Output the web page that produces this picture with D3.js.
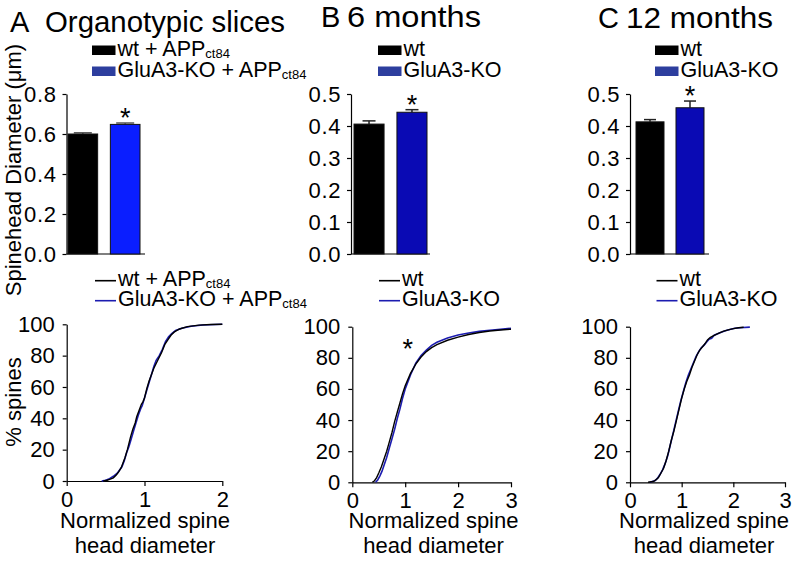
<!DOCTYPE html>
<html>
<head>
<meta charset="utf-8">
<script src="https://cdnjs.cloudflare.com/ajax/libs/d3/7.8.5/d3.min.js"></script>
<style>
  html, body { margin: 0; padding: 0; background: #fff; }
  svg { display: block; font-family: "Liberation Sans", Arial, Helvetica, sans-serif; }
</style>
</head>
<body>
<svg id="chart" width="793" height="562"></svg>
<script>
// ---------------- DATA ----------------
const panelLetters = ["A", "B", "C"];
const panelTitles = ["Organotypic slices", "6 months", "12 months"];

const groupsA = ["wt + APP", "GluA3-KO + APP"];
const groupsBC = ["wt", "GluA3-KO"];
const subscriptA = "ct84";

const barMeansA = [0.600, 0.648];
const barErrA = [0.006, 0.007];
const barMeansB = [0.406, 0.443];
const barErrB = [0.010, 0.008];
const barMeansC = [0.413, 0.457];
const barErrC = [0.007, 0.021];
const sigBars = [true, true, true];

const barTicksA = [0.0, 0.2, 0.4, 0.6, 0.8];
const barTicksBC = [0.0, 0.1, 0.2, 0.3, 0.4, 0.5];
const cdfYTicks = [0, 20, 40, 60, 80, 100];
const cdfXTicksA = [0, 1, 2];
const cdfXTicksBC = [0, 1, 2, 3];

const yLabelTop = "Spinehead Diameter (\u03bcm)";
const yLabelBottom = "% spines";
const xLabelLines = ["Normalized spine", "head diameter"];

// cumulative distributions: [normalized diameter, % spines]
const cdfWtA = [[0.47,0],[0.52,0.5],[0.56,1.2],[0.6,2],[0.64,4],[0.67,6],[0.7,8.5],[0.72,11],[0.75,15],[0.78,20],[0.8,24],[0.82,28],[0.85,33],[0.88,37],[0.9,41],[0.93,45],[0.96,49],[0.98,50.5],[1.0,53],[1.03,59],[1.06,64],[1.09,68],[1.12,72],[1.15,75],[1.18,78],[1.22,82],[1.26,87],[1.3,90],[1.34,93],[1.38,95],[1.45,97],[1.55,98.5],[1.7,99.5],[1.85,99.9],[2.0,100]];
const cdfKoA = [[0.45,0],[0.5,0.5],[0.55,1.5],[0.6,3],[0.65,5],[0.68,7],[0.71,9],[0.74,13],[0.77,18],[0.8,22],[0.83,27],[0.86,32],[0.89,37],[0.92,42],[0.95,46],[0.97,48],[1.0,53],[1.03,58],[1.06,63],[1.09,68],[1.12,73],[1.15,77],[1.19,80],[1.23,84],[1.27,89],[1.31,92],[1.35,94],[1.4,96],[1.48,97.5],[1.6,98.8],[1.75,99.6],[2.0,100]];

const cdfWtB = [[0.38,0],[0.42,1],[0.46,3],[0.5,6],[0.55,10],[0.6,15],[0.65,20],[0.7,26],[0.75,32],[0.8,39],[0.85,45],[0.9,51],[0.95,57],[1.0,62],[1.1,70],[1.2,76],[1.3,80.5],[1.4,84],[1.5,86.5],[1.6,88.5],[1.8,91.3],[2.0,93.3],[2.2,95],[2.4,96.3],[2.6,97.2],[2.8,97.9],[3.0,98.4]];
const cdfKoB = [[0.44,0],[0.48,1.5],[0.52,4],[0.56,7],[0.6,11],[0.65,16],[0.7,22],[0.75,28],[0.8,34],[0.85,41],[0.9,47],[0.95,54],[1.0,60],[1.1,69],[1.2,76.5],[1.3,81.5],[1.4,85],[1.5,88],[1.6,90],[1.8,92.8],[2.0,94.7],[2.2,96],[2.4,97],[2.6,97.7],[2.8,98.3],[3.0,99]];

const cdfWtC = [[0.35,0],[0.45,0.5],[0.5,1.5],[0.55,3],[0.6,6],[0.65,9],[0.7,14],[0.75,20],[0.8,27],[0.85,33],[0.9,40],[0.95,47],[1.0,54],[1.05,60],[1.1,65],[1.15,69],[1.2,74],[1.25,78],[1.3,82],[1.35,85],[1.4,87],[1.45,89],[1.5,91.5],[1.55,93],[1.6,94],[1.7,95.5],[1.8,97],[1.9,98],[2.0,98.8],[2.1,99.3],[2.2,99.6]];
const cdfKoC = [[0.38,0],[0.48,1],[0.53,2.5],[0.58,5],[0.63,8],[0.68,12],[0.73,17],[0.78,24],[0.83,31],[0.88,38],[0.93,45],[0.98,52],[1.03,58],[1.08,64],[1.13,69],[1.18,73],[1.23,77],[1.28,81],[1.33,84],[1.38,86.5],[1.43,88],[1.48,90],[1.53,92],[1.58,92.5],[1.63,94.5],[1.73,96],[1.83,97.2],[1.93,98.2],[2.03,99],[2.13,99.3],[2.32,99.7]];
const cdfSig = [false, true, false];
const cdfStarB = [1.05, 82];

// ---------------- DRAW ----------------
const svg = d3.select("#chart");
const FONT = 21.5;
const TICKFONT = 22;

const blackC = "#000000";
const barBlue = ["#0a1eff", "#0a0ab4", "#0a0ab4"];
const swatchBlue = "#2d3e9e";
const lineBlue = "#1c1cb0";

// titles
const titleCfg = [
  {lx: 10, tx: 45, tw: 240, y: 32},
  {lx: 321, tx: 347, tw: 134, y: 27},
  {lx: 598, tx: 626, tw: 147, y: 28}
];
titleCfg.forEach((c, i) => {
  svg.append("text").attr("x", c.lx).attr("y", c.y).attr("font-size", 29).text(panelLetters[i]);
  svg.append("text").attr("x", c.tx).attr("y", c.y).attr("font-size", 30)
    .attr("textLength", c.tw).attr("lengthAdjust", "spacingAndGlyphs").text(panelTitles[i]);
});

function legendText(g, x, y, label, sub) {
  const t = g.append("text").attr("x", x).attr("y", y).attr("font-size", FONT).text(label);
  if (sub) t.append("tspan").attr("font-size", 13).attr("dy", 2).text(sub);
}

// bar panels
const barCfg = [
  {axisX: 66.5, x0: 68, x1: 140, axisEnd: 145, max: 0.8, ticks: barTicksA, means: barMeansA, errs: barErrA, groups: groupsA, sub: subscriptA, sw: 92, errC: "#555", cap: 18},
  {axisX: 351, x0: 354, x1: 427, axisEnd: 430, max: 0.5, ticks: barTicksBC, means: barMeansB, errs: barErrB, groups: groupsBC, sub: null, sw: 378, errC: "#222", cap: 13},
  {axisX: 630, x0: 636, x1: 704, axisEnd: 709, max: 0.5, ticks: barTicksBC, means: barMeansC, errs: barErrC, groups: groupsBC, sub: null, sw: 655, errC: "#222", cap: 12}
];

barCfg.forEach((c, i) => {
  const g = svg.append("g");
  const y = d3.scaleLinear().domain([0, c.max]).range([254, 94]);
  const x = d3.scaleBand().domain([0, 1]).range([c.x0, c.x1]).paddingInner(0.3).paddingOuter(0);
  const ax = g.append("g").attr("transform", `translate(${c.axisX},0)`)
    .call(d3.axisLeft(y).tickValues(c.ticks).tickFormat(d3.format(".1f")).tickSize(4).tickSizeOuter(0).tickPadding(6));
  ax.selectAll("text").attr("font-size", TICKFONT).attr("font-family", null).attr("fill", "#000")
    .attr("letter-spacing", 0.6);
  ax.selectAll("line,path").attr("stroke", "#000").attr("stroke-width", 1.2);
  g.append("line").attr("x1", c.axisX).attr("x2", c.axisEnd).attr("y1", y(0)).attr("y2", y(0))
    .attr("stroke", "#000").attr("stroke-width", 1.2);
  const colors = [blackC, barBlue[i]];
  c.means.forEach((m, k) => {
    const cx = x(k) + x.bandwidth() / 2;
    g.append("line").attr("x1", cx).attr("x2", cx).attr("y1", y(m)).attr("y2", y(m + c.errs[k]))
      .attr("stroke", c.errC).attr("stroke-width", 1.5);
    g.append("line").attr("x1", cx - c.cap / 2).attr("x2", cx + c.cap / 2)
      .attr("y1", y(m + c.errs[k])).attr("y2", y(m + c.errs[k])).attr("stroke", c.errC).attr("stroke-width", 1.5);
    g.append("rect").attr("x", x(k)).attr("y", y(m)).attr("width", x.bandwidth()).attr("height", y(0) - y(m))
      .attr("fill", colors[k]).attr("stroke", "#111").attr("stroke-width", 1);
  });
  if (sigBars[i]) {
    g.append("text").attr("x", x(1) + x.bandwidth() / 2).attr("y", y(c.means[1] + c.errs[1]) + 4)
      .attr("text-anchor", "middle").attr("font-size", 27).text("*");
  }
  // legend
  [blackC, swatchBlue].forEach((col, k) => {
    g.append("rect").attr("x", c.sw).attr("y", 45.5 + k * 21).attr("width", 23.5).attr("height", 9.5).attr("fill", col);
    legendText(g, c.sw + 25.5, 56 + k * 20.5, c.groups[k], c.sub);
  });
});

// top y label
svg.append("text").attr("transform", "translate(21,170) rotate(-90)").attr("text-anchor", "middle")
  .attr("font-size", 22).text(yLabelTop);

// CDF panels
const cdfCfg = [
  {axisX: 66.7, xEnd: 222.3, xMax: 2, yTop: 324.3, yBot: 481, xticks: cdfXTicksA, wt: cdfWtA, ko: cdfKoA, groups: groupsA, sub: subscriptA, lx: 95, labelX: 145},
  {axisX: 352.3, xEnd: 511, xMax: 3, yTop: 326.7, yBot: 482.3, xticks: cdfXTicksBC, wt: cdfWtB, ko: cdfKoB, groups: groupsBC, sub: null, lx: 379, labelX: 433.5},
  {axisX: 630, xEnd: 785, xMax: 3, yTop: 326.7, yBot: 482.3, xticks: cdfXTicksBC, wt: cdfWtC, ko: cdfKoC, groups: groupsBC, sub: null, lx: 656.5, labelX: 704}
];

cdfCfg.forEach((c, i) => {
  const g = svg.append("g");
  const x = d3.scaleLinear().domain([0, c.xMax]).range([c.axisX, c.xEnd]);
  const y = d3.scaleLinear().domain([0, 100]).range([c.yBot, c.yTop]);
  const ay = g.append("g").attr("transform", `translate(${c.axisX},0)`)
    .call(d3.axisLeft(y).tickValues(cdfYTicks).tickFormat(d3.format("d")).tickSize(4).tickSizeOuter(0).tickPadding(8));
  const axx = g.append("g").attr("transform", `translate(0,${c.yBot})`)
    .call(d3.axisBottom(x).tickValues(c.xticks).tickFormat(d3.format("d")).tickSize(5).tickSizeOuter(0).tickPadding(5));
  [ay, axx].forEach(a => {
    a.selectAll("text").attr("font-size", TICKFONT).attr("font-family", null).attr("fill", "#000");
    a.selectAll("line,path").attr("stroke", "#000").attr("stroke-width", 1.2);
  });
  const line = d3.line().x(d => x(d[0])).y(d => y(d[1]));
  g.append("path").datum(c.ko).attr("d", line).attr("fill", "none").attr("stroke", lineBlue).attr("stroke-width", 1.6);
  g.append("path").datum(c.wt).attr("d", line).attr("fill", "none").attr("stroke", "#000").attr("stroke-width", 1.4);
  if (cdfSig[i]) {
    g.append("text").attr("x", x(cdfStarB[0])).attr("y", y(cdfStarB[1]) + 3)
      .attr("text-anchor", "middle").attr("font-size", 27).text("*");
  }
  // legend
  ["#000", lineBlue].forEach((col, k) => {
    g.append("line").attr("x1", c.lx).attr("x2", c.lx + 21).attr("y1", 280.7 + k * 20).attr("y2", 280.7 + k * 20)
      .attr("stroke", col).attr("stroke-width", 1.6);
    legendText(g, c.lx + 23, 286 + k * 19.5, c.groups[k], c.sub);
  });
  // x label
  xLabelLines.forEach((t, k) => {
    g.append("text").attr("x", c.labelX).attr("y", 528 + k * 25).attr("text-anchor", "middle")
      .attr("font-size", 22).text(t);
  });
});

svg.append("text").attr("transform", "translate(21,402) rotate(-90)").attr("text-anchor", "middle")
  .attr("font-size", 22).text(yLabelBottom);
</script>
</body>
</html>
